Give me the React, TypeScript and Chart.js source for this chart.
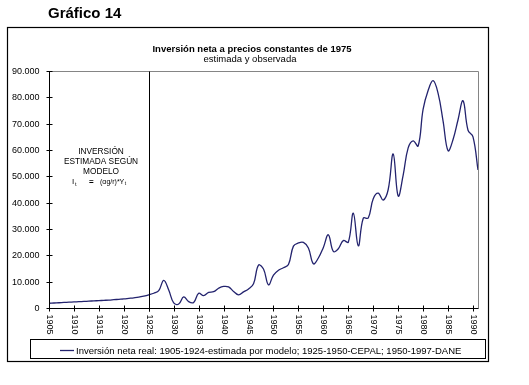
import React, { useEffect, useRef } from 'react';
import { Chart, registerables } from 'chart.js';

Chart.register(...registerables);

const years: string[] = [
  '1905','1906','1907','1908','1909','1910','1911','1912','1913','1914',
  '1915','1916','1917','1918','1919','1920','1921','1922','1923','1924',
  '1925','1926','1927','1928','1929','1930','1931','1932','1933','1934',
  '1935','1936','1937','1938','1939','1940','1941','1942','1943','1944',
  '1945','1946','1947','1948','1949','1950','1951','1952','1953','1954',
  '1955','1956','1957','1958','1959','1960','1961','1962','1963','1964',
  '1965','1966','1967','1968','1969','1970','1971','1972','1973','1974',
  '1975','1976','1977','1978','1979','1980','1981','1982','1983','1984',
  '1985','1986','1987','1988','1989','1990','1991',
];

const inversion: number[] = [
  1800, 1900, 2000, 2100, 2200, 2300, 2400, 2500, 2600, 2700,
  2800, 2900, 3000, 3150, 3300, 3450, 3650, 3850, 4100, 4500,
  5000, 5600, 6600, 10500, 6800, 1900, 1500, 4200, 2400, 2100,
  5600, 4700, 5900, 6200, 7500, 8200, 8000, 6300, 5000, 6100,
  7200, 9200, 16300, 14800, 8800, 12500, 14300, 15300, 16500, 23500,
  24700, 24900, 22800, 16800, 19000, 23000, 27800, 21500, 22500, 25600,
  25000, 36000, 23600, 34100, 34200, 41500, 43600, 41000, 45000, 58500,
  42500, 50500, 60800, 63500, 61500, 75500, 82600, 86300, 81500, 71000,
  59700, 64000, 71500, 78700, 67500, 65000, 52400,
];

const xTickLabels: string[] = [
  '1905','1910','1915','1920','1925','1930','1935','1940','1945','1950',
  '1955','1960','1965','1970','1975','1980','1985','1990',
];
const yTickValues: number[] = [0, 10000, 20000, 30000, 40000, 50000, 60000, 70000, 80000, 90000];
const markerYear = '1925';

const pageTitle = 'Gráfico 14';
const chartTitle = 'Inversión neta a precios constantes de 1975';
const chartSubtitle = 'estimada y observada';
const seriesLabel = 'Inversión neta real: 1905-1924-estimada por modelo; 1925-1950-CEPAL; 1950-1997-DANE';
const noteLines: string[] = ['INVERSIÓN', 'ESTIMADA SEGÚN', 'MODELO'];

const FONT = '"Liberation Sans", Arial, Helvetica, sans-serif';
const LINE_COLOR = '#23236e';

function fmt(v: number): string {
  return String(Math.round(v)).replace(/\B(?=(\d{3})+(?!\d))/g, '.');
}

const decorPlugin = {
  id: 'decor',
  beforeDraw(chart: any) {
    const ctx = chart.ctx;
    ctx.save();
    ctx.fillStyle = '#ffffff';
    ctx.fillRect(0, 0, chart.width, chart.height);
    ctx.restore();
  },
  afterDraw(chart: any) {
    const ctx: CanvasRenderingContext2D = chart.ctx;
    const a = chart.chartArea;
    const xs = chart.scales.x;
    const ys = chart.scales.y;
    const L = Math.round(a.left) + 0.5;
    const R = Math.round(a.right) + 0.5;
    const T = Math.round(a.top) + 0.5;
    const B = Math.round(a.bottom) + 0.5;
    ctx.save();

    // outer frame
    ctx.strokeStyle = '#000';
    ctx.lineWidth = 1.2;
    ctx.strokeRect(7.5, 27.5, 481, 334);

    // page title
    ctx.fillStyle = '#000';
    ctx.textAlign = 'left';
    ctx.textBaseline = 'middle';
    ctx.font = `bold 15px ${FONT}`;
    ctx.fillText(pageTitle, 48, 14);

    // chart titles
    ctx.textAlign = 'center';
    ctx.font = `bold 9.5px ${FONT}`;
    ctx.fillText(chartTitle, 252, 49);
    ctx.font = `9.5px ${FONT}`;
    ctx.fillText(chartSubtitle, 250, 59.5);

    // plot border top/right (gray)
    ctx.lineWidth = 1;
    ctx.strokeStyle = '#858585';
    ctx.beginPath();
    ctx.moveTo(L, T);
    ctx.lineTo(R, T);
    ctx.lineTo(R, B);
    ctx.stroke();

    // vertical marker line
    const mx = Math.round(xs.getPixelForValue(years.indexOf(markerYear))) + 0.5;
    ctx.strokeStyle = '#000';
    ctx.beginPath();
    ctx.moveTo(mx, T);
    ctx.lineTo(mx, B + 3);
    ctx.stroke();

    // axes
    ctx.beginPath();
    ctx.moveTo(L, T);
    ctx.lineTo(L, B);
    ctx.lineTo(R, B);
    ctx.stroke();

    // y ticks + labels
    ctx.font = `9px ${FONT}`;
    ctx.textAlign = 'right';
    ctx.textBaseline = 'middle';
    yTickValues.forEach((v) => {
      const py = Math.round(ys.getPixelForValue(v)) + 0.5;
      ctx.beginPath();
      ctx.moveTo(L - 3, py);
      ctx.lineTo(L + 3, py);
      ctx.stroke();
      ctx.fillText(fmt(v), 39.5, py);
    });

    // x ticks + rotated labels
    xTickLabels.forEach((lab) => {
      const idx = years.indexOf(lab);
      const px = Math.round(xs.getPixelForValue(idx)) + 0.5;
      ctx.beginPath();
      ctx.moveTo(px, B - 3);
      ctx.lineTo(px, B + 3);
      ctx.stroke();
      ctx.save();
      ctx.translate(px, B + 6);
      ctx.rotate(Math.PI / 2);
      ctx.textAlign = 'left';
      ctx.textBaseline = 'middle';
      ctx.fillText(lab, 0, 0);
      ctx.restore();
    });

    // annotation
    ctx.font = `8.3px ${FONT}`;
    ctx.textAlign = 'center';
    ctx.textBaseline = 'middle';
    noteLines.forEach((s, i) => ctx.fillText(s, 101, 151.5 + i * 10));
    ctx.textAlign = 'left';
    ctx.font = `8px ${FONT}`;
    ctx.fillText('I', 72, 182);
    ctx.font = `5.5px ${FONT}`;
    ctx.fillText('t', 75, 184);
    ctx.font = `bold 8px ${FONT}`;
    ctx.fillText('=', 89, 182);
    ctx.font = `7px ${FONT}`;
    ctx.fillText('(\u03b1g/r)*Y', 100, 182);
    const w = ctx.measureText('(\u03b1g/r)*Y').width;
    ctx.font = `5px ${FONT}`;
    ctx.fillText('t', 100 + w + 0.5, 184);

    // legend
    ctx.lineWidth = 1;
    ctx.strokeStyle = '#000';
    ctx.strokeRect(30.5, 339.5, 455, 19);
    const ds = chart.data.datasets[0];
    ctx.strokeStyle = ds.borderColor;
    ctx.lineWidth = 1.3;
    ctx.beginPath();
    ctx.moveTo(60, 350.5);
    ctx.lineTo(74, 350.5);
    ctx.stroke();
    ctx.fillStyle = '#000';
    ctx.font = `9.5px ${FONT}`;
    ctx.textAlign = 'left';
    ctx.textBaseline = 'middle';
    ctx.fillText(ds.label, 76, 351);

    ctx.restore();
  },
};

export default function App() {
  const ref = useRef<HTMLCanvasElement | null>(null);
  useEffect(() => {
    if (!ref.current) return;
    const chart = new Chart(ref.current, {
      type: 'line',
      data: {
        labels: years,
        datasets: [
          {
            label: seriesLabel,
            data: inversion,
            borderColor: LINE_COLOR,
            borderWidth: 1.3,
            pointRadius: 0,
            tension: 0.4,
            fill: false,
          },
        ],
      },
      options: {
        animation: false,
        responsive: false,
        devicePixelRatio: 1,
        layout: { padding: { left: 49, top: 71, right: 51, bottom: 77 } },
        plugins: {
          legend: { display: false },
          title: { display: false },
          tooltip: { enabled: false },
        },
        scales: {
          x: { type: 'category', display: false, offset: false },
          y: { type: 'linear', display: false, min: 0, max: 90000 },
        },
      },
      plugins: [decorPlugin],
    });
    return () => chart.destroy();
  }, []);
  return (
    <div style={{ position: 'absolute', left: 0, top: 0, width: 529, height: 385, background: '#fff' }}>
      <canvas ref={ref} width={529} height={385} style={{ display: 'block' }} />
    </div>
  );
}
